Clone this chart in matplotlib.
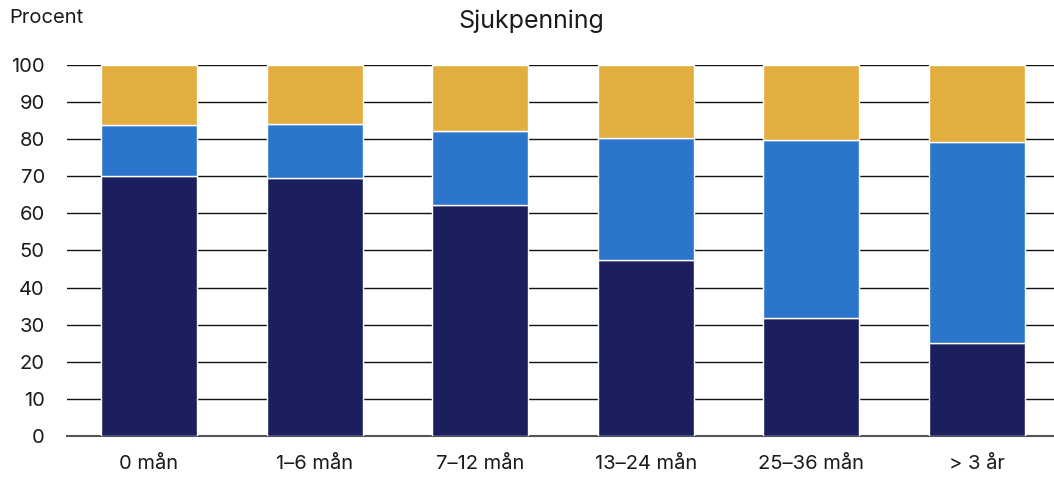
import numpy as np
import matplotlib.pyplot as plt

plt.rcParams['font.family'] = ['Inter', 'DejaVu Sans']

# Andel per varaktighet (procent)
categories = ['0 mån', '1–6 mån', '7–12 mån', '13–24 mån', '25–36 mån', '> 3 år']
bottom_series = [70.0, 69.5, 62.3, 47.4, 31.8, 25.1]
middle_series = [13.8, 14.5, 19.9, 33.0, 48.1, 54.1]
top_series = [100 - a - b for a, b in zip(bottom_series, middle_series)]

c_dark = '#1b1f5e'
c_blue = '#2b76cc'
c_gold = '#e2ae40'

fig = plt.figure(figsize=(10.54, 4.78), dpi=100)
ax = fig.add_axes([0.0636, 0.088, 0.9364, 0.776])

x = np.arange(len(categories))
w = 0.58
bot = np.array(bottom_series)
mid = np.array(middle_series)
top = np.array(top_series)

ax.bar(x, bot, w, color=c_dark, edgecolor='white', linewidth=1, zorder=3)
ax.bar(x, mid, w, bottom=bot, color=c_blue, edgecolor='white', linewidth=1, zorder=3)
ax.bar(x, top, w, bottom=bot + mid, color=c_gold, edgecolor='white', linewidth=1, zorder=3)

ax.set_xlim(-0.495, 5.465)
ax.set_ylim(0, 100)
ax.set_yticks(range(0, 101, 10))
ax.yaxis.grid(True, color='#111111', linewidth=1)
ax.set_axisbelow(True)

ax.set_xticks(x)
ax.set_xticklabels(categories)
ax.tick_params(axis='both', length=0, labelsize=14.5, colors='#1a1a1a')
ax.tick_params(axis='y', pad=16)
ax.tick_params(axis='x', pad=14)

for s in ['top', 'right', 'left']:
    ax.spines[s].set_visible(False)
ax.spines['bottom'].set_color('#555555')
ax.spines['bottom'].set_linewidth(1.5)

fig.text(0.009, 0.963, 'Procent', fontsize=14.5, color='#1a1a1a', va='center')
fig.text(0.504, 0.956, 'Sjukpenning', fontsize=18, color='#1a1a1a', ha='center', va='center')

fig.savefig('out.png', dpi=100)
